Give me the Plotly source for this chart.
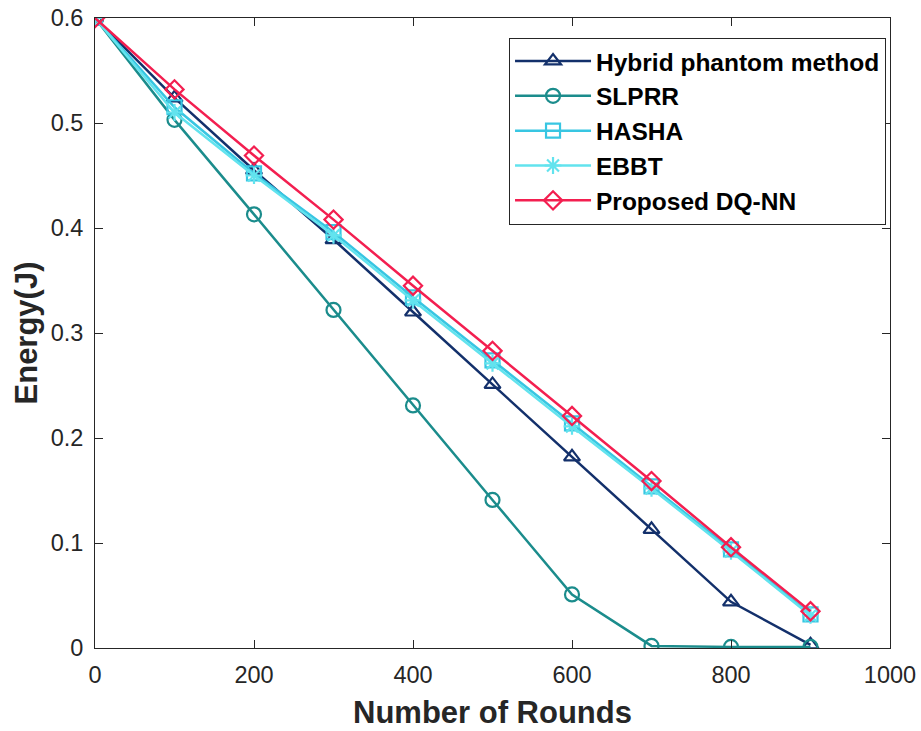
import plotly.graph_objects as go

rounds = [0, 100, 200, 300, 400, 500, 600, 700, 800, 900]
hybrid = [0.600, 0.524, 0.455, 0.389, 0.320, 0.251, 0.182, 0.113, 0.044, 0.003]
slprr = [0.600, 0.503, 0.413, 0.322, 0.231, 0.141, 0.051, 0.002, 0.001, 0.001]
hasha = [0.600, 0.515, 0.452, 0.396, 0.334, 0.274, 0.214, 0.154, 0.094, 0.032]
ebbt = [0.600, 0.510, 0.450, 0.393, 0.331, 0.271, 0.211, 0.152, 0.092, 0.031]
proposed = [0.600, 0.532, 0.469, 0.408, 0.345, 0.283, 0.221, 0.159, 0.096, 0.035]

series = [
    ("Hybrid phantom method", hybrid, "#13306b", "triangle-up-open"),
    ("SLPRR", slprr, "#1b8c8c", "circle-open"),
    ("HASHA", hasha, "#38c6e2", "square-open"),
    ("EBBT", ebbt, "#62e3ee", "asterisk-open"),
    ("Proposed DQ-NN", proposed, "#f31f50", "diamond-open"),
]

FONT = "Arial, Liberation Sans, Helvetica"

fig = go.Figure()
for name, vals, color, sym in series:
    fig.add_trace(go.Scatter(
        x=rounds, y=vals, name="<b>" + name + "</b>", mode="lines+markers",
        line=dict(color=color, width=2.5),
        marker=dict(symbol=sym, size=14, color=color, line=dict(color=color, width=2.2)),
    ))

axis_common = dict(
    showline=True, linecolor="#262626", linewidth=1, mirror="ticks",
    ticks="inside", ticklen=8, tickcolor="#262626", showgrid=False, zeroline=False,
    automargin=False, ticklabeloverflow="allow",
    tickfont=dict(family=FONT, size=23.5, color="#262626"),
)
fig.update_xaxes(range=[0, 1000], dtick=200, tick0=0, ticklabelstandoff=6,
                 title=dict(text="<b>Number of Rounds</b>", standoff=14,
                            font=dict(family=FONT, size=31, color="#262626")),
                 **axis_common)
fig.update_yaxes(range=[0, 0.6], dtick=0.1, tick0=0, ticklabelstandoff=6,
                 title=dict(text="<b>Energy(J)</b>", standoff=3,
                            font=dict(family=FONT, size=31, color="#262626")),
                 **axis_common)

fig.update_layout(
    width=921, height=731,
    margin=dict(l=95, r=31, t=18, b=83),
    plot_bgcolor="white", paper_bgcolor="white",
    legend=dict(x=0.995, y=0.969, xanchor="right", yanchor="top",
                bgcolor="white", bordercolor="#262626", borderwidth=1,
                font=dict(family=FONT, size=24.5, color="black"),
                itemwidth=76, tracegroupgap=0),
    showlegend=True,
)

# remove the browser's default body margin so the figure fills the window
fig.write_html("out.html", config={"displayModeBar": False},
               post_script="document.body.style.margin='0';")
